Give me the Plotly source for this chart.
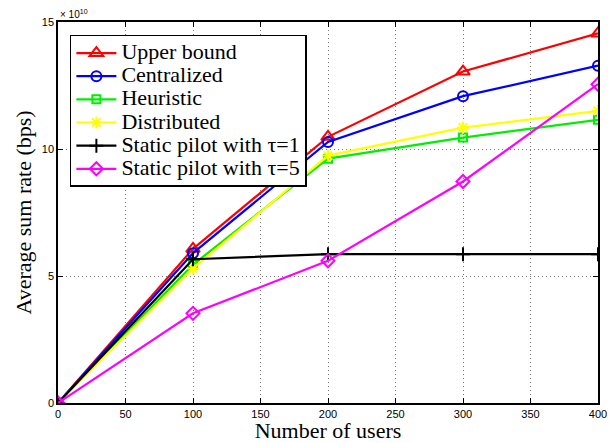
import plotly.graph_objects as go

users = [0, 100, 200, 300, 400]
upper_bound = [0, 6.07, 10.48, 13.05, 14.55]
centralized = [0, 5.9, 10.28, 12.08, 13.28]
heuristic = [0, 5.45, 9.62, 10.45, 11.15]
distributed = [0, 5.3, 9.74, 10.84, 11.5]
static_tau1 = [0, 5.66, 5.86, 5.86, 5.86]
static_tau5 = [0, 3.53, 5.6, 8.72, 12.55]

x_ticks = [0, 50, 100, 150, 200, 250, 300, 350, 400]
y_ticks = [0, 5, 10, 15]

series = [
    ("Upper bound", upper_bound, "#ff0000", "triangle-up-open", 12),
    ("Centralized", centralized, "#0000ff", "circle-open", 10),
    ("Heuristic", heuristic, "#00ee00", "square-open", 8),
    ("Distributed", distributed, "#ffff00", "asterisk-open", 10),
    ("Static pilot with τ=1", static_tau1, "#000000", "cross-thin-open", 10),
    ("Static pilot with τ=5", static_tau5, "#ff00ff", "diamond-open", 10),
]

fig = go.Figure()
for name, vals, color, sym, size in series:
    fig.add_trace(go.Scatter(
        x=users, y=vals, name='<span style="font-size:22px">' + name + '</span>',
        mode="lines+markers",
        line=dict(color=color, width=2.2),
        marker=dict(symbol=sym, size=size, color=color, line=dict(color=color, width=2)),
    ))

axis_common = dict(
    showline=True, linecolor="black", linewidth=1.5, mirror="ticks",
    ticks="inside", ticklen=5, tickcolor="black",
    showgrid=True, gridcolor="#777777", griddash="1px,3px", gridwidth=1,
    zeroline=False, automargin=False,
    tickfont=dict(family="Liberation Sans, Arial", size=11, color="black"),
)

serif = "Liberation Serif, Times New Roman"
fig.update_xaxes(
    range=[0, 400], tickvals=x_ticks,
    title=dict(text="Number of users", font=dict(family=serif, size=22, color="black"), standoff=0),
    **axis_common,
)
fig.update_yaxes(
    range=[0, 15], tickvals=y_ticks,
    title=dict(text="Average sum rate (bps)", font=dict(family=serif, size=22, color="black"), standoff=4),
    **axis_common,
)

fig.add_annotation(
    text="× 10<sup>10</sup>", xref="paper", yref="paper", x=0.0, y=1.0,
    xanchor="left", yanchor="bottom", showarrow=False,
    font=dict(family="Liberation Sans, Arial", size=10, color="black"),
)

# page body has an 8px margin; figure size/margins compensate for it
fig.update_layout(
    width=607, height=435,
    margin=dict(l=50, r=17, t=14, b=40),
    plot_bgcolor="white", paper_bgcolor="white",
    legend=dict(
        x=0.022, y=0.966, xanchor="left", yanchor="top",
        bgcolor="white", bordercolor="black", borderwidth=1.5,
        font=dict(family=serif, size=15.5, color="black"),
        tracegroupgap=0, itemwidth=40,
    ),
    showlegend=True,
)

fig.write_html("out.html")
